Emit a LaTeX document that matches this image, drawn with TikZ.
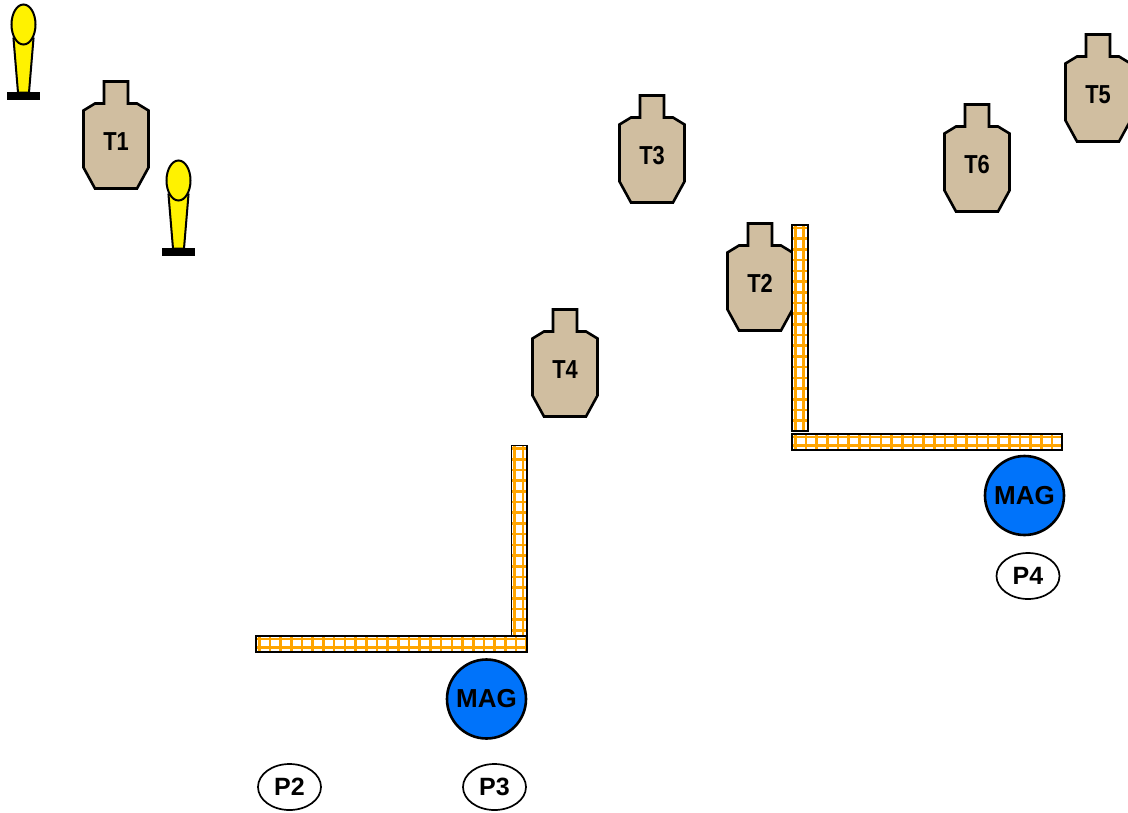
\documentclass[tikz,border=0pt]{standalone}
\usepackage{fontspec}
\setmainfont{Liberation Sans}
\usepackage{xcolor}
\usetikzlibrary{shapes.geometric}

\definecolor{targettan}{RGB}{208,190,160}
\definecolor{magblue}{RGB}{0,115,250}
\definecolor{wallorange}{RGB}{255,165,0}

\tikzset{
  targetbody/.style={draw=black, fill=targettan, line width=2.6pt, line join=miter},
  targetlabel/.style={font=\fontsize{26}{30}\selectfont\bfseries, xscale=0.84, transform shape},
  magnode/.style={circle, draw=black, fill=magblue, line width=2.6pt, minimum size=79pt, inner sep=0pt, font=\fontsize{26}{30}\selectfont\bfseries},
  portnode/.style={ellipse, draw=black, fill=white, line width=1.7pt, minimum width=63pt, minimum height=46pt, inner sep=0pt, font=\fontsize{25}{30}\selectfont\bfseries},
  wallgrid/.style={draw=wallorange, line width=2.6pt},
  wallbox/.style={draw=black, line width=1.8pt},
  target/.pic={
    \draw[targetbody] (-12,0) -- (12,0) -- (12,22) -- (21,22) -- (32.5,29) -- (32.5,86)
      -- (21,107) -- (-21,107) -- (-32.5,86) -- (-32.5,29) -- (-21,22) -- (-12,22) -- cycle;
    \node[targetlabel] (-label) at (0,60) {#1};
  },
  popper/.pic={
    \fill[black] (-16.5,67.5) rectangle (16.5,75.5);
    \draw[fill=yellow, line width=2pt] (-10,14) -- (-5.5,68) -- (5.5,68) -- (10,14) -- cycle;
    \draw[fill=yellow, line width=2pt] (0,0) circle [x radius=12, y radius=20];
  },
}

% corner x, corner y, width, height, step along x, step along y
\newcommand{\wallbar}[6]{
  \begin{scope}[shift={(#1,#2)}]
    \fill[white] (0,0) rectangle (#3,#4);
    \begin{scope}
      \clip (0,0) rectangle (#3,#4);
      \foreach \gx in {0,...,26} {
        \draw[wallgrid] ({3.2+\gx*#5},0) -- ({3.2+\gx*#5},#4);
      }
      \foreach \gy in {0,...,20} {
        \draw[wallgrid] (0,{3+\gy*#6}) -- (#3,{3+\gy*#6});
      }
    \end{scope}
    \draw[wallbox] (0,0) rectangle (#3,#4);
  \end{scope}
}

\begin{document}
\begin{tikzpicture}[x=1pt,y=-1pt]
  \useasboundingbox (0,0) rectangle (1128,812);

  \pic at (23.5,24.5) {popper};
  \pic at (178.5,180.5) {popper};

  \pic (t1) at (116,81.5) {target=T1};
  \pic (t2) at (760,223.5) {target=T2};
  \pic (t3) at (652,95.5) {target=T3};
  \pic (t4) at (565,309.5) {target=T4};
  \pic (t5) at (1098,34.5) {target=T5};
  \pic (t6) at (977,104.5) {target=T6};

  \wallbar{792}{225}{16}{206}{8.2}{10.7}
  \wallbar{792}{434}{270}{16}{10.7}{8.2}
  \wallbar{511.5}{445.5}{15.5}{206}{8.2}{10.7}
  \wallbar{256}{636}{271}{16}{10.7}{8.2}

  \node[magnode] (magupper) at (1024.5,495.5) {MAG};
  \node[magnode] (maglower) at (486.5,699) {MAG};

  \node[portnode] (p4) at (1028,576) {P4};
  \node[portnode] (p2) at (289.5,787) {P2};
  \node[portnode] (p3) at (494.5,787) {P3};
\end{tikzpicture}
\end{document}
